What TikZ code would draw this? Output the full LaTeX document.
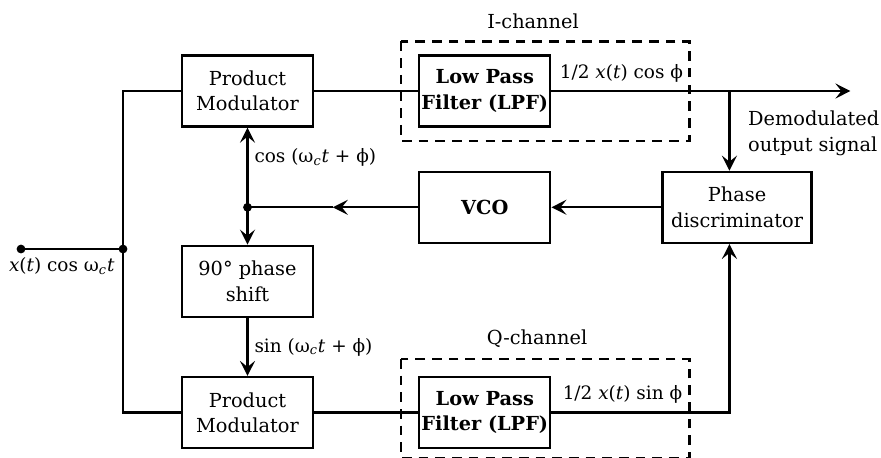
\documentclass[tikz,border=0pt]{standalone}
\usepackage{fontspec}
\setmainfont{DejaVu Serif}
\usepackage{tikz}
\usetikzlibrary{positioning, arrows.meta, calc}
\tikzset{>={Stealth[length=3mm,width=3mm,inset=1.2mm]}}

\newcommand{\wc}{ω\textsubscript{\textit{c}}}

\begin{document}
\begin{tikzpicture}[
    line width=1.3pt,
    font=\fontsize{11}{14.5}\selectfont,
    block/.style={draw, line width=1.3pt, minimum width=2.62cm, minimum height=1.42cm, align=center, inner sep=1pt},
    boldblock/.style={block, font=\fontsize{11}{14.5}\selectfont\bfseries},
    sig/.style={font=\fontsize{10.5}{13}\selectfont},
    dashbox/.style={dash pattern=on 5.5pt off 4pt, line width=1.3pt},
    dot/.style={circle, fill, inner sep=0pt, minimum size=5pt}
    ]
    \useasboundingbox (0,0) rectangle (17.62,-9.14);

    	\node[block] (pmI) at (4.95,-1.82) {Product\\Modulator};
    	\node[boldblock, right=2.08cm of pmI] (lpfI) {Low Pass\\Filter (LPF)};
    	\node[boldblock, below=0.86cm of lpfI] (vco) {VCO};
    	\node[block, right=2.2cm of vco, minimum width=2.98cm] (pd) {Phase\\discriminator};
    	\node[block, below=2.34cm of pmI] (ps) {90° phase\\shift};
    	\node[block, below=1.16cm of ps] (pmQ) {Product\\Modulator};
    	\node[boldblock, right=2.08cm of pmQ] (lpfQ) {Low Pass\\Filter (LPF)};

    	% dashed channel boxes
    	\draw[dashbox] ($(lpfI.north west)+(-0.34,0.26)$) rectangle ($(lpfI.south east)+(2.76,-0.26)$);
    	\draw[dashbox] ($(lpfQ.north west)+(-0.34,0.34)$) rectangle ($(lpfQ.south east)+(2.76,-0.18)$);
    	\node (ich) at (10.66,-0.42) {I-channel};
    	\node (qch) at (10.74,-6.78) {Q-channel};

    	% input
    	\coordinate (in) at (0.42,-4.98);
    	\coordinate (split) at (2.46,-4.98);
    	\node[dot] at (in) {};
    	\node[dot] at (split) {};
    	\draw (in) -- (split) node[pos=0.4, below=1pt, sig] (lblin) {\textit{x}(\textit{t}) cos \wc\textit{t}};
    	\draw (split) |- (pmI);
    	\draw (split) |- (pmQ);

    	% I path
    	\draw (pmI) -- (lpfI);
    	\coordinate (out) at ($(lpfI.east)+(5.98,0)$);
    	\coordinate (tap) at ($(lpfI.east)+(3.56,0)$);
    	\draw[->] (lpfI) -- (out);
    	\node[above=1pt, sig] (icos) at ($(lpfI.east)+(1.4,0)$) {1/2 \textit{x}(\textit{t}) cos ϕ};
    	\node[anchor=north west, align=left, inner sep=0pt] (lblout) at (14.94,-2.2) {Demodulated\\output signal};
    	\draw[->] (tap) -- (tap |- pd.north);

    	% Q path
    	\draw (pmQ) -- (lpfQ);
    	\draw[->] (lpfQ.east) -| (tap |- pd.south);
    	\node[above=1pt, sig] (qsin) at ($(lpfQ.east)+(1.42,0)$) {1/2 \textit{x}(\textit{t}) sin ϕ};

    	% loop
    	\draw[->] (pd) -- (vco);
    	\coordinate (jn) at (pmI.south |- vco.west);
    	\node[dot] at (jn) {};
    	\draw[->] (vco.west) -- ($(vco.west)!0.5!(jn)$);
    	\draw ($(vco.west)!0.5!(jn)$) -- (jn);
    	\draw[->] (jn) -- (pmI.south) node[pos=0.63, right, sig] (lblcos) {cos (\wc\textit{t} + ϕ)};
    	\draw[->] (jn) -- (ps.north);
    	\draw[->] (ps) -- (pmQ) node[midway, right, sig] (lblsin) {sin (\wc\textit{t} + ϕ)};
	\end{tikzpicture}
\end{document}
